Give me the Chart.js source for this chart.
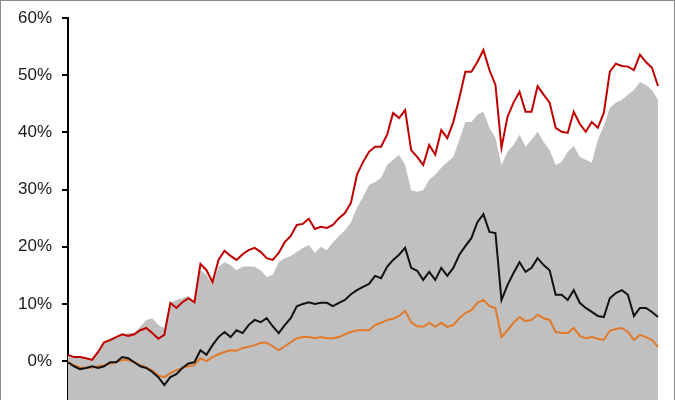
<!DOCTYPE html>
<html>
<head>
<meta charset="utf-8">
<script src="https://cdn.jsdelivr.net/npm/chart.js@4/dist/chart.umd.min.js"></script>
<style>
  html, body { margin: 0; padding: 0; background: #fff; }
  #wrap { position: relative; width: 675px; height: 400px; overflow: hidden; }
  #frame { position: absolute; left: 0; top: 0; width: 675px; height: 400px; box-sizing: border-box;
           border: 1px solid #8a8a8a; border-bottom: none; pointer-events: none; }
</style>
</head>
<body>
<div id="wrap">
  <canvas id="c" width="675" height="400"></canvas>
  <div id="frame"></div>
</div>
<script>
/* ─── data (percent returns) ─── */
const DAYS = Array.from({ length: 99 }, (_, i) => i);

const RED = [
  1.1, 0.7, 0.7, 0.5, 0.2, 1.6, 3.3, 3.7, 4.2, 4.7,
  4.4, 4.7, 5.4, 5.8, 4.9, 3.9, 4.6, 10.2, 9.3, 10.3,
  11.0, 10.3, 17.0, 15.9, 13.8, 17.7, 19.3, 18.4, 17.7, 18.7,
  19.4, 19.8, 19.1, 18.0, 17.7, 18.9, 20.8, 21.9, 23.8, 24.0,
  24.9, 23.1, 23.5, 23.3, 23.8, 25.0, 25.9, 27.7, 32.6, 34.8,
  36.6, 37.5, 37.5, 39.6, 43.4, 42.5, 43.9, 36.9, 35.7, 34.3,
  37.8, 36.1, 40.4, 39.0, 41.8, 46.0, 50.6, 50.6, 52.3, 54.4,
  50.9, 48.3, 37.3, 42.7, 45.2, 47.1, 43.6, 43.6, 48.1, 46.6,
  45.2, 40.8, 40.1, 39.9, 43.6, 41.5, 40.1, 41.8, 40.8, 43.4,
  50.6, 52.0, 51.6, 51.5, 50.9, 53.6, 52.3, 51.3, 48.1
];

const GREY = [
  1.1, 0.7, 0.7, 0.5, 0.4, 1.6, 3.3, 3.7, 4.4, 4.7,
  4.9, 4.9, 6.0, 7.2, 7.5, 6.3, 5.8, 10.2, 10.7, 11.0,
  11.4, 10.3, 15.9, 15.1, 13.3, 16.5, 17.3, 16.8, 15.9, 16.5,
  16.6, 16.5, 15.9, 14.7, 15.1, 17.3, 18.0, 18.4, 19.1, 19.8,
  20.3, 18.9, 20.0, 19.4, 20.8, 21.9, 22.9, 24.3, 26.8, 28.7,
  30.8, 31.3, 32.0, 34.3, 35.2, 36.1, 34.3, 29.9, 29.6, 29.9,
  31.7, 32.6, 33.8, 34.8, 35.7, 38.7, 41.8, 41.8, 43.1, 43.6,
  40.8, 39.0, 34.3, 36.6, 37.8, 39.6, 37.5, 38.7, 40.1, 38.3,
  36.9, 34.3, 34.8, 36.6, 37.6, 35.7, 35.2, 34.7, 38.7, 41.1,
  44.3, 45.2, 45.7, 46.6, 47.4, 48.8, 48.3, 47.4, 45.7
];

const BLACK = [
  -0.2, -0.9, -1.4, -1.2, -0.9, -1.2, -0.9, -0.2, -0.2, 0.7,
  0.5, -0.2, -0.9, -1.2, -1.9, -2.8, -4.2, -2.8, -2.3, -1.2,
  -0.4, -0.2, 1.9, 1.1, 2.8, 4.2, 5.1, 4.2, 5.4, 4.9,
  6.3, 7.2, 6.8, 7.5, 6.1, 4.9, 6.3, 7.5, 9.6, 10.0,
  10.3, 10.0, 10.2, 10.2, 9.6, 10.2, 10.7, 11.7, 12.4, 13.0,
  13.5, 14.9, 14.5, 16.5, 17.7, 18.6, 19.8, 16.3, 15.8, 14.2,
  15.6, 14.2, 16.3, 14.9, 16.3, 18.6, 20.1, 21.5, 24.3, 25.7,
  22.6, 22.4, 10.7, 13.3, 15.4, 17.3, 15.6, 16.3, 18.0, 16.8,
  15.9, 11.6, 11.6, 10.7, 12.4, 10.2, 9.3, 8.6, 7.9, 7.7,
  11.0, 11.9, 12.4, 11.6, 7.9, 9.3, 9.3, 8.6, 7.7
];

const ORANGE = [
  -0.2, -0.7, -1.1, -1.2, -1.1, -0.9, -0.7, -0.4, -0.2, 0.2,
  0.2, -0.2, -0.7, -1.1, -1.6, -2.5, -2.8, -2.1, -1.6, -1.2,
  -0.9, -0.7, 0.5, 0.0, 0.7, 1.2, 1.6, 1.9, 1.8, 2.3,
  2.5, 2.8, 3.2, 3.2, 2.6, 1.9, 2.6, 3.3, 4.0, 4.2,
  4.2, 4.0, 4.2, 4.0, 4.0, 4.2, 4.7, 5.1, 5.4, 5.4,
  5.4, 6.3, 6.7, 7.2, 7.4, 7.9, 8.8, 6.8, 6.1, 6.0,
  6.7, 6.0, 6.7, 6.0, 6.3, 7.5, 8.4, 8.9, 10.2, 10.7,
  9.6, 9.3, 4.2, 5.4, 6.7, 7.7, 7.0, 7.2, 8.1, 7.5,
  7.2, 5.1, 4.9, 4.9, 5.8, 4.4, 4.0, 4.2, 3.9, 3.7,
  5.3, 5.6, 5.8, 5.1, 3.7, 4.6, 4.2, 3.7, 2.5
];

const Y_TICKS = [0, 10, 20, 30, 40, 50, 60];
const Y_MIN = -6.8, Y_MAX = 60;

/* ─── chart ─── */
const line = (data, color, order) => ({
  data, borderColor: color, borderWidth: 2, pointRadius: 0,
  tension: 0, fill: false, order,
});

new Chart(document.getElementById('c'), {
  type: 'line',
  data: {
    labels: DAYS,
    datasets: [
      line(RED, '#c00000', 0),
      line(BLACK, '#111111', 1),
      line(ORANGE, '#e07a2a', 2),
      { data: GREY, borderWidth: 0, pointRadius: 0, tension: 0,
        fill: 'start', backgroundColor: '#c0c0c0', order: 3 },
    ],
  },
  options: {
    responsive: false, animation: false,
    layout: { padding: { left: 0, right: 17, top: 18, bottom: 0 } },
    plugins: { legend: { display: false }, tooltip: { enabled: false } },
    scales: {
      x: { display: false, offset: false },
      y: {
        min: Y_MIN, max: Y_MAX,
        afterFit: s => { s.width = 68; s.paddingTop = 0; s.paddingBottom = 0; },
        afterBuildTicks: s => { s.ticks = Y_TICKS.map(v => ({ value: v })); },
        border: { display: true, color: '#000', width: 2 },
        grid: { display: true, drawOnChartArea: false, drawTicks: true,
                tickLength: 6, color: '#000', lineWidth: 2 },
        ticks: {
          padding: 10, color: '#1a1a1a',
          font: { family: "'Liberation Sans', Arial, sans-serif", size: 17 },
          callback: v => v + '%',
        },
      },
    },
  },
});
</script>
</body>
</html>
